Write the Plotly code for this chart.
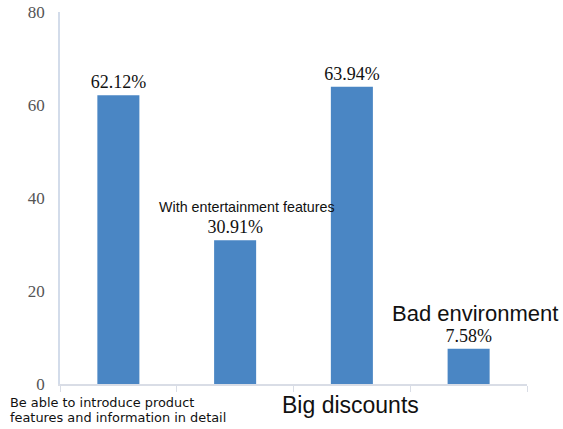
import plotly.graph_objects as go

categories = ["Be able to introduce product features and information in detail",
              "With entertainment features", "Big discounts", "Bad environment"]
values = [62.12, 30.91, 63.94, 7.58]
labels = ["62.12%", "30.91%", "63.94%", "7.58%"]
tick_vals = [0, 20, 40, 60, 80]

fig = go.Figure()
fig.add_trace(go.Bar(
    x=categories, y=values, text=labels, textposition="outside",
    textfont=dict(family="Liberation Serif", size=18, color="#111111"),
    constraintext="none",
    marker=dict(color="#4a86c4", line=dict(width=0)),
    cliponaxis=False,
))

ann_font = "Liberation Sans"
fig.add_annotation(xref="paper", yref="paper", x=-0.112, y=-0.051, xanchor="left", yanchor="middle",
                   text="Be able to introduce product",
                   showarrow=False, align="left", font=dict(family="DejaVu Sans", size=12.9, color="#111111"))
fig.add_annotation(xref="paper", yref="paper", x=-0.112, y=-0.091, xanchor="left", yanchor="middle",
                   text="features and information in detail",
                   showarrow=False, align="left", font=dict(family="DejaVu Sans", size=12.9, color="#111111"))
fig.add_annotation(xref="paper", yref="y", x=0.40, y=38.0, xanchor="center", yanchor="middle",
                   text="With entertainment features", showarrow=False,
                   font=dict(family=ann_font, size=14.3, color="#111111"))
fig.add_annotation(xref="paper", yref="paper", x=0.623, y=-0.056, xanchor="center", yanchor="middle",
                   text="Big discounts", showarrow=False,
                   font=dict(family=ann_font, size=23, color="#111111"))
fig.add_annotation(xref="paper", yref="y", x=0.889, y=15.1, xanchor="center", yanchor="middle",
                   text="Bad environment", showarrow=False,
                   font=dict(family=ann_font, size=22, color="#111111"))

fig.update_layout(
    width=563, height=429,
    margin=dict(l=60, r=36, t=12, b=45, autoexpand=False),
    paper_bgcolor="white", plot_bgcolor="white",
    bargap=0.64, showlegend=False,
    xaxis=dict(showticklabels=False, showline=True, linecolor="#d9dde6", linewidth=1.5,
               ticks="outside", tickson="boundaries", ticklen=6, tickcolor="#d9dde6",
               showgrid=False, zeroline=False, automargin=False),
    yaxis=dict(range=[0, 80], tickvals=tick_vals, showline=True, linecolor="#d3dcea", linewidth=1.5,
               showgrid=False, zeroline=False, ticks="", automargin=False,
               tickfont=dict(family="Liberation Serif", size=17, color="#555555"), ticklabelstandoff=10),
)

fig.write_html("out.html")
